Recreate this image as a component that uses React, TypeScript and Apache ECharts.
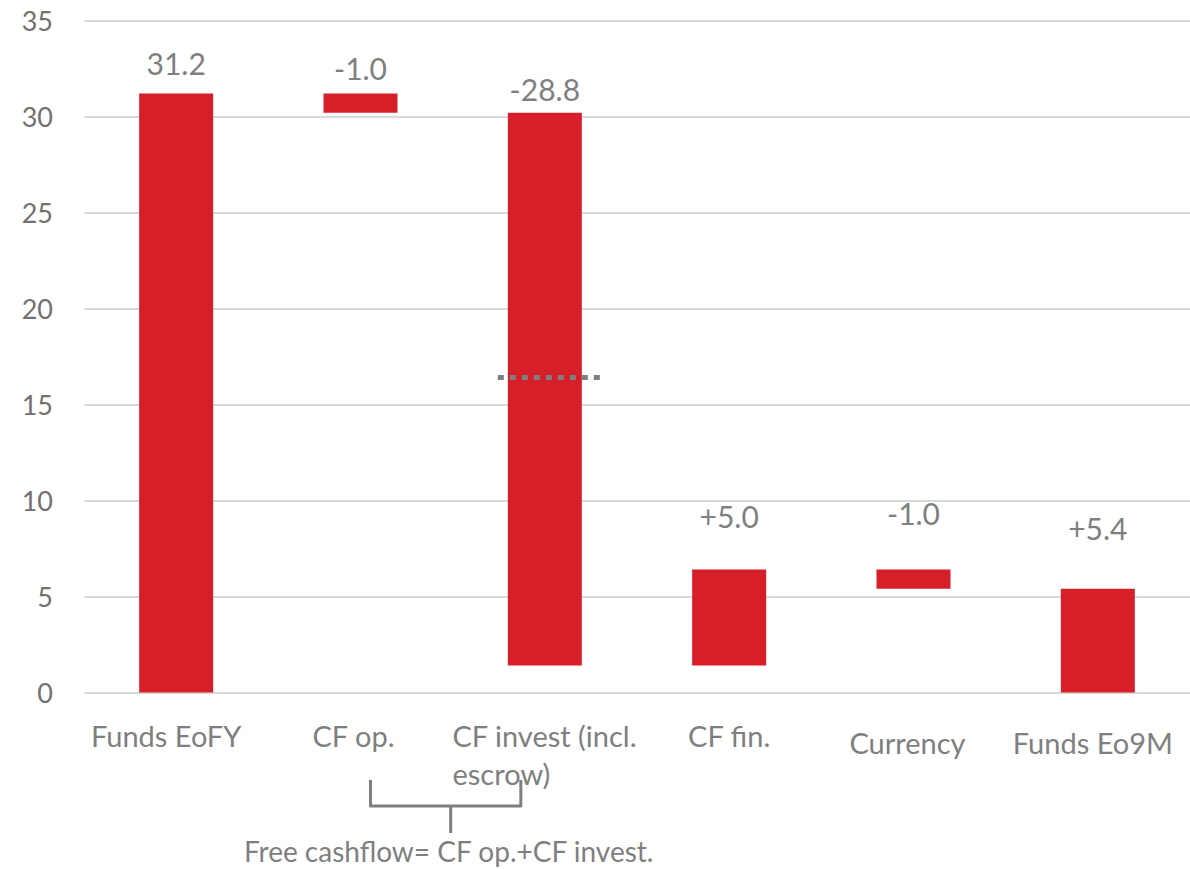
import React, { useEffect, useRef } from "react";
import * as echarts from "echarts";

const categories = [
  "Funds EoFY",
  "CF op.",
  "CF invest (incl.\nescrow)",
  "CF fin.",
  "Currency",
  "Funds Eo9M",
];
const changes = [31.2, -1.0, -28.8, 5.0, -1.0, 5.4];
const isTotal = [true, false, false, false, false, true];
const labelTexts = ["31.2", "-1.0", "-28.8", "+5.0", "-1.0", "+5.4"];
const yMin = 0;
const yMax = 35;
const yInterval = 5;
const dottedLevel = 16.4;
const bracketNote = "Free cashflow= CF op.+CF invest.";

// style-only tweaks: label distance above each bar, category label shifts
const labelDistances = [14, 9, 8, 38, 41, 45];
const catShiftLeft = [10, 7, 0, 0, 6, 5];
const catDrop = [0, 0, 0, 0, 14, 14];

const FONT = "Lato, 'Open Sans', sans-serif";
const RED = "#d71f2a";
const GRAY = "#7f7f7f";
const CAT_SIZE = 29;

function buildWaterfall() {
  const base: number[] = [];
  const height: number[] = [];
  let running = 0;
  changes.forEach((c, i) => {
    if (isTotal[i]) {
      base.push(0);
      height.push(Math.abs(c));
      running = c;
    } else {
      const next = +(running + c).toFixed(4);
      base.push(Math.min(running, next));
      height.push(Math.abs(c));
      running = next;
    }
  });
  return { base, height };
}

const tok = { fontFamily: FONT, fontSize: CAT_SIZE, lineHeight: 38, color: GRAY };

export default function App() {
  const ref = useRef<HTMLDivElement>(null);
  useEffect(() => {
    document.body.style.margin = "0";
    if (!ref.current) return;
    const chart = echarts.init(ref.current, undefined, { renderer: "svg" });
    const { base, height } = buildWaterfall();
    const rich: Record<string, any> = { l: { ...tok, align: "left" } };
    categories.forEach((_, i) => {
      rich["c" + i] = {
        ...tok,
        padding: [catDrop[i], catShiftLeft[i] * 2, 0, 0],
      };
    });
    chart.setOption({
      animation: false,
      backgroundColor: "#ffffff",
      grid: { left: 84, right: 0, top: 20.5, bottom: 176.5, containLabel: false },
      xAxis: {
        type: "category",
        data: categories,
        axisLine: { show: false },
        axisTick: { show: false },
        axisLabel: {
          interval: 0,
          margin: 24,
          color: GRAY,
          fontFamily: FONT,
          fontSize: CAT_SIZE,
          lineHeight: 38,
          formatter: (v: string, idx: number) => {
            if (v.includes("\n"))
              return v
                .split("\n")
                .map((s) => `{l|${s}}`)
                .join("\n");
            return `{c${idx}|${v}}`;
          },
          rich,
        },
      },
      yAxis: {
        type: "value",
        min: yMin,
        max: yMax,
        interval: yInterval,
        axisLine: { show: false },
        axisTick: { show: false },
        axisLabel: {
          margin: 31,
          color: "#757070",
          fontFamily: FONT,
          fontSize: 27,
        },
        splitLine: { lineStyle: { color: "#d9d9d9", width: 2 } },
      },
      series: [
        {
          type: "bar",
          stack: "wf",
          data: base,
          barWidth: 74,
          itemStyle: { color: "transparent" },
          emphasis: { disabled: true },
          silent: true,
        },
        {
          type: "bar",
          stack: "wf",
          barWidth: 74,
          data: height.map((h, i) => ({
            value: h,
            label: {
              show: true,
              position: "top",
              distance: labelDistances[i],
              formatter: labelTexts[i],
            },
          })),
          itemStyle: { color: RED },
          label: {
            color: GRAY,
            fontFamily: FONT,
            fontSize: 30,
            lineHeight: 32,
          },
        },
      ],
    });

    const p = chart.convertToPixel({ gridIndex: 0 }, [2, dottedLevel]) as number[];
    const cfOp = chart.convertToPixel({ gridIndex: 0 }, [1, 0]) as number[];
    const cfInv = chart.convertToPixel({ gridIndex: 0 }, [2, 0]) as number[];
    const lx = cfOp[0] + 10;
    const rx = cfInv[0] - 24;
    const mx = (lx + rx) / 2 + 5;
    const topY = 780;
    const midY = 806;
    chart.setOption({
      graphic: [
        {
          type: "line",
          shape: { x1: p[0] - 47, y1: p[1], x2: p[0] + 55, y2: p[1] },
          style: { stroke: GRAY, lineWidth: 5, lineDash: [6, 6] },
          z: 10,
        },
        {
          type: "polyline",
          shape: {
            points: [
              [lx, topY],
              [lx, midY],
              [rx, midY],
              [rx, topY],
            ],
          },
          style: { stroke: GRAY, lineWidth: 3, fill: "none", lineJoin: "round" },
        },
        {
          type: "line",
          shape: { x1: mx, y1: midY, x2: mx, y2: 833 },
          style: { stroke: GRAY, lineWidth: 3 },
        },
        {
          type: "text",
          x: mx - 2,
          y: 851,
          style: {
            text: bracketNote,
            fill: GRAY,
            font: `28px ${FONT}`,
            align: "center",
            verticalAlign: "middle",
          },
        },
      ],
    });
    return () => chart.dispose();
  }, []);
  return <div ref={ref} style={{ width: 1190, height: 869 }} />;
}
